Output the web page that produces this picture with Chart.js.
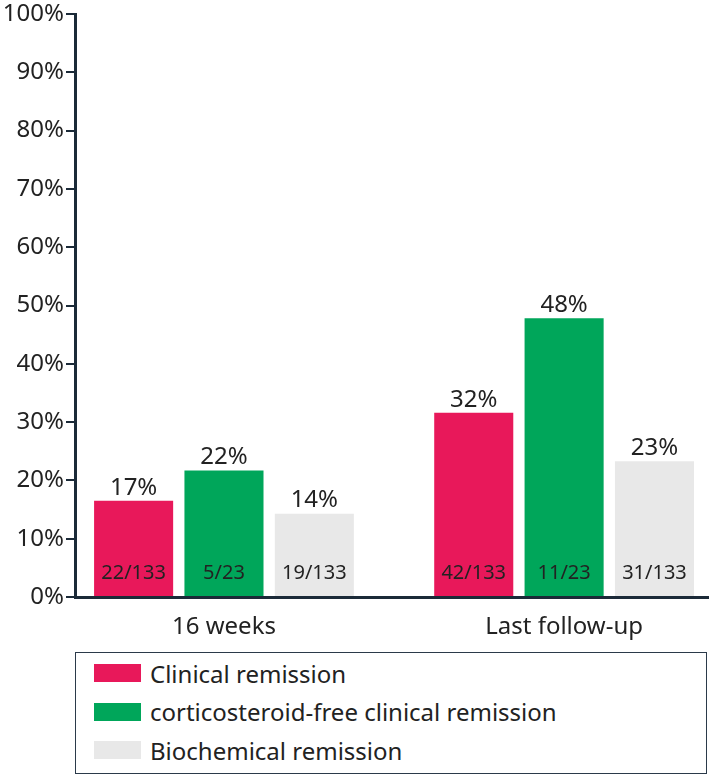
<!DOCTYPE html>
<html lang="en">
<head>
  <meta charset="UTF-8" />
  <title>Remission rates</title>
  <script src="https://cdn.jsdelivr.net/npm/chart.js"></script>
  <style>
    body { margin: 0; background: #fff; font-family: "Noto Sans", sans-serif; color: #222; }
    .wrap { position: relative; width: 709px; height: 776px; }
    #chartBox { position: absolute; left: 0; top: 0; width: 709px; height: 650px; }
    .legend {
      position: absolute; left: 75px; top: 652px; width: 630px; height: 120px;
      border: 1.5px solid #2b3a4a;
    }
    .legend-item { position: absolute; left: 18px; height: 24px; display: flex; align-items: center; font-size: 24px; }
    .legend-swatch { width: 47px; height: 18px; margin-right: 9px; }
  </style>
</head>
<body>
  <div class="wrap">
    <div id="chartBox"><canvas id="remissionChart"></canvas></div>
    <div class="legend" id="legend"></div>
  </div>

  <script>
    const categories = ['16 weeks', 'Last follow-up'];
    const seriesNames = ['Clinical remission', 'corticosteroid-free clinical remission', 'Biochemical remission'];
    const seriesColors = ['#e8185a', '#00a65a', '#e8e8e8'];
    // percent values per series (16 weeks, last follow-up)
    const clinical = [16.5, 31.6];
    const steroidFree = [21.7, 47.8];
    const biochemical = [14.3, 23.3];
    const pctLabels = [['17%', '32%'], ['22%', '48%'], ['14%', '23%']];
    const countLabels = [['22/133', '42/133'], ['5/23', '11/23'], ['19/133', '31/133']];
    const yTicks = [0, 10, 20, 30, 40, 50, 60, 70, 80, 90, 100];

    const axisColor = '#1b2a38';
    const series = [clinical, steroidFree, biochemical];

    const barLabels = {
      id: 'barLabels',
      afterDatasetsDraw(chart) {
        const ctx = chart.ctx;
        ctx.save();
        ctx.fillStyle = '#222';
        ctx.textAlign = 'center';
        chart.data.datasets.forEach((ds, i) => {
          chart.getDatasetMeta(i).data.forEach((bar, j) => {
            ctx.font = '24px "Noto Sans"';
            ctx.textBaseline = 'bottom';
            ctx.fillText(pctLabels[i][j], bar.x, bar.y - 1);
            ctx.font = '20px "Noto Sans"';
            ctx.textBaseline = 'middle';
            ctx.fillText(countLabels[i][j], bar.x, bar.base - 23);
          });
        });
        ctx.restore();
      }
    };

    new Chart(document.getElementById('remissionChart'), {
      type: 'bar',
      data: {
        datasets: series.map((vals, i) => ({
          label: seriesNames[i],
          data: vals.map((v, j) => ({ x: j + 1, y: v })),
          backgroundColor: seriesColors[i],
          categoryPercentage: 0.797,
          barPercentage: 0.875
        }))
      },
      options: {
        responsive: true,
        maintainAspectRatio: false,
        animation: false,
        layout: { padding: 0 },
        plugins: { legend: { display: false }, tooltip: { enabled: false } },
        scales: {
          x: {
            type: 'linear',
            offset: false,
            min: 0.562,
            max: 2.426,
            afterBuildTicks: axis => { axis.ticks = categories.map((c, i) => ({ value: i + 1 })); },
            afterFit: scale => { scale.height = 53; },
            ticks: {
              callback: v => categories[v - 1],
              color: '#222',
              font: { family: 'Noto Sans', size: 24, lineHeight: 1.0 },
              padding: 10
            },
            grid: { display: false },
            border: { color: axisColor, width: 3 }
          },
          y: {
            min: 0,
            max: 100,
            afterBuildTicks: axis => { axis.ticks = yTicks.map(v => ({ value: v })); },
            afterFit: scale => { scale.width = 75; },
            ticks: {
              callback: v => v + '%',
              color: '#222',
              font: { family: 'Noto Sans', size: 24, lineHeight: 1.0 },
              padding: 2
            },
            grid: { drawOnChartArea: false, drawTicks: true, tickLength: 9, color: axisColor, lineWidth: 2 },
            border: { color: axisColor, width: 3 }
          }
        }
      },
      plugins: [barLabels]
    });

    const legend = document.getElementById('legend');
    seriesNames.forEach((name, i) => {
      const item = document.createElement('div');
      item.className = 'legend-item';
      item.style.top = (8 + i * 38.5) + 'px';
      item.innerHTML = '<span class="legend-swatch" style="background:' + seriesColors[i] + '"></span>' + name;
      legend.appendChild(item);
    });
  </script>
</body>
</html>
